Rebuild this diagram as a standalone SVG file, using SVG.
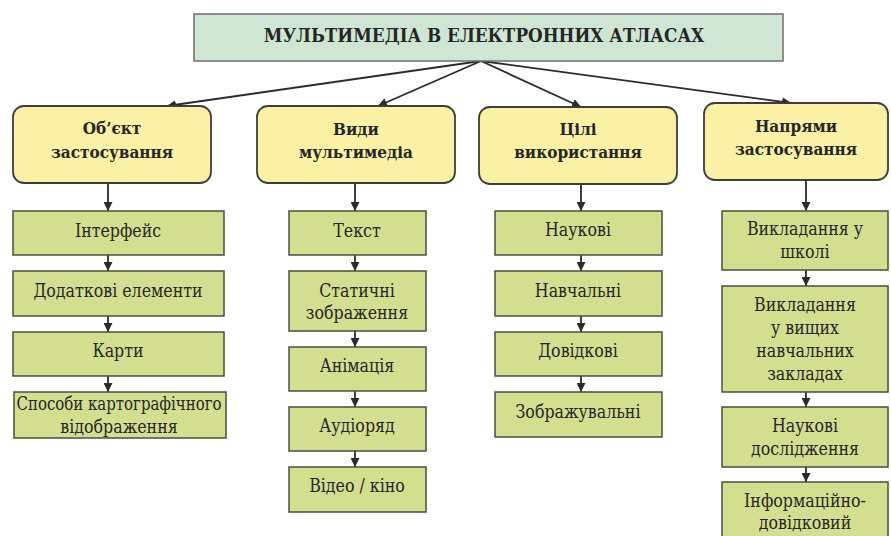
<svg xmlns="http://www.w3.org/2000/svg" width="891" height="536" viewBox="0 0 891 536">
<defs>
<marker id="ah" viewBox="0 0 10 10" refX="10" refY="5" markerWidth="9" markerHeight="9" markerUnits="userSpaceOnUse" orient="auto">
<path d="M0,0 L10,5 L0,10 Z" fill="#2b2b2b"/>
</marker>
<style>
.title{fill:#cfe6d5;stroke:#6e6e6e;stroke-width:1.5}
.cat{fill:#fbf1a4;stroke:#3d3d3d;stroke-width:1.8}
.item{fill:#d3df8e;stroke:#4a4f40;stroke-width:1.5}
text{fill:#262626;text-anchor:middle;font-family:"DejaVu Serif Condensed","DejaVu Serif",serif;font-stretch:condensed}
.tt{font-size:18.7px;font-weight:bold}
.ct{font-size:17px;font-weight:bold}
.it{font-size:17.6px}
.conn line{stroke:#2b2b2b;stroke-width:1.8;marker-end:url(#ah)}
</style>
</defs>
<rect width="891" height="536" fill="#ffffff"/>

<g id="connectors" class="conn">
<line x1="481" y1="61" x2="167" y2="106"/>
<line x1="481" y1="61" x2="378" y2="106"/>
<line x1="481" y1="61" x2="581" y2="107"/>
<line x1="481" y1="61" x2="791" y2="103"/>
<line x1="108" y1="183" x2="108" y2="211"/>
<line x1="108" y1="255" x2="108" y2="271"/>
<line x1="108" y1="316" x2="108" y2="332"/>
<line x1="108" y1="376" x2="108" y2="392"/>
<line x1="355" y1="183" x2="355" y2="211"/>
<line x1="355" y1="255" x2="355" y2="271"/>
<line x1="355" y1="331" x2="355" y2="347"/>
<line x1="355" y1="391" x2="355" y2="407"/>
<line x1="355" y1="451" x2="355" y2="467"/>
<line x1="581" y1="184" x2="581" y2="211"/>
<line x1="581" y1="255" x2="581" y2="271"/>
<line x1="581" y1="316" x2="581" y2="332"/>
<line x1="581" y1="376" x2="581" y2="392"/>
<line x1="806" y1="180" x2="806" y2="211"/>
<line x1="806" y1="270" x2="806" y2="286"/>
<line x1="806" y1="392" x2="806" y2="407"/>
<line x1="806" y1="467" x2="806" y2="482"/>
</g>

<g id="title">
<rect class="title" x="194" y="14" width="589" height="47"/>
<text class="tt" x="484" y="42">МУЛЬТИМЕДІА В ЕЛЕКТРОННИХ АТЛАСАХ</text>
</g>

<g id="cat-object">
<rect class="cat" x="13" y="106" width="198" height="77" rx="11"/>
<text class="ct" x="112" y="134">Об’єкт</text>
<text class="ct" x="112" y="158">застосування</text>
</g>
<g id="cat-types">
<rect class="cat" x="257" y="106" width="198" height="77" rx="11"/>
<text class="ct" x="356" y="135">Види</text>
<text class="ct" x="356" y="158">мультимедіа</text>
</g>
<g id="cat-goals">
<rect class="cat" x="479" y="107" width="198" height="77" rx="11"/>
<text class="ct" x="578" y="135">Цілі</text>
<text class="ct" x="578" y="158">використання</text>
</g>
<g id="cat-directions">
<rect class="cat" x="704" y="103" width="184" height="77" rx="11"/>
<text class="ct" x="796" y="132">Напрями</text>
<text class="ct" x="796" y="155">застосування</text>
</g>

<g id="n-interface"><rect class="item" x="13" y="211" width="211" height="44"/><text class="it" x="118" y="237">Інтерфейс</text></g>
<g id="n-extra"><rect class="item" x="13" y="271" width="211" height="45"/><text class="it" x="118" y="297">Додаткові елементи</text></g>
<g id="n-maps"><rect class="item" x="13" y="332" width="211" height="44"/><text class="it" x="118" y="357">Карти</text></g>
<g id="n-methods"><rect class="item" x="14" y="392" width="212" height="46"/><text class="it" x="119" y="410" textLength="205" lengthAdjust="spacingAndGlyphs">Способи картографічного</text><text class="it" x="119" y="433">відображення</text></g>

<g id="n-text"><rect class="item" x="289" y="211" width="137" height="44"/><text class="it" x="357" y="237">Текст</text></g>
<g id="n-static"><rect class="item" x="289" y="271" width="137" height="60"/><text class="it" x="357" y="297">Статичні</text><text class="it" x="357" y="319">зображення</text></g>
<g id="n-anim"><rect class="item" x="289" y="347" width="137" height="44"/><text class="it" x="357" y="372">Анімація</text></g>
<g id="n-audio"><rect class="item" x="289" y="407" width="137" height="44"/><text class="it" x="357" y="432">Аудіоряд</text></g>
<g id="n-video"><rect class="item" x="289" y="467" width="137" height="45"/><text class="it" x="357" y="492">Відео / кіно</text></g>

<g id="n-sci"><rect class="item" x="495" y="211" width="167" height="44"/><text class="it" x="578" y="236">Наукові</text></g>
<g id="n-edu"><rect class="item" x="495" y="271" width="167" height="45"/><text class="it" x="578" y="297">Навчальні</text></g>
<g id="n-ref"><rect class="item" x="495" y="332" width="167" height="44"/><text class="it" x="578" y="357">Довідкові</text></g>
<g id="n-vis"><rect class="item" x="495" y="392" width="167" height="45"/><text class="it" x="578" y="418">Зображувальні</text></g>

<g id="n-school"><rect class="item" x="722" y="211" width="166" height="59"/><text class="it" x="805" y="235">Викладання у</text><text class="it" x="805" y="258">школі</text></g>
<g id="n-higher"><rect class="item" x="722" y="286" width="166" height="106"/><text class="it" x="805" y="311">Викладання</text><text class="it" x="805" y="334">у вищих</text><text class="it" x="805" y="357">навчальних</text><text class="it" x="805" y="380">закладах</text></g>
<g id="n-research"><rect class="item" x="722" y="407" width="166" height="60"/><text class="it" x="805" y="432">Наукові</text><text class="it" x="805" y="455">дослідження</text></g>
<g id="n-info"><rect class="item" x="722" y="482" width="166" height="70"/><text class="it" x="805" y="507">Інформаційно-</text><text class="it" x="805" y="529">довідковий</text></g>
</svg>
